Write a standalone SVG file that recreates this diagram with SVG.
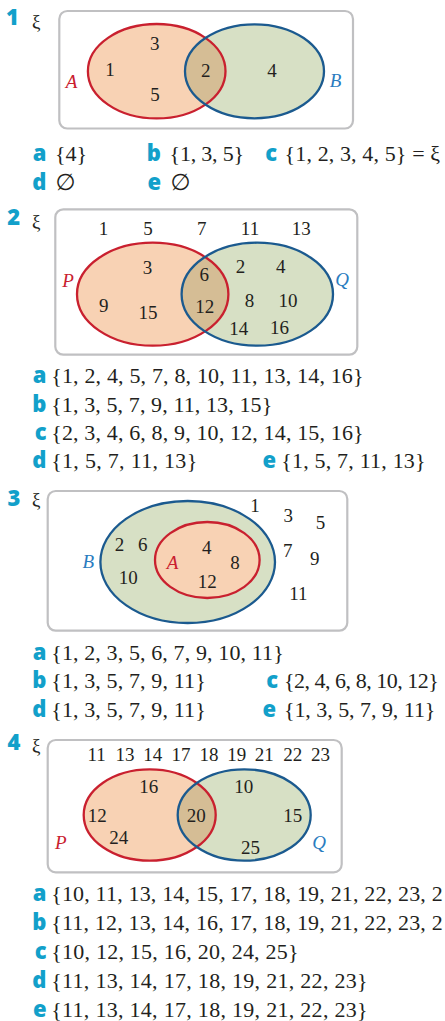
<svg xmlns="http://www.w3.org/2000/svg" width="445" height="1021" viewBox="0 0 445 1021">
<style>
.univ{fill:none;stroke:#c0c0c2;stroke-width:2.2}
.fa{fill:#f8d2b4}
.fb{fill:#d7e0c5}
.fi{fill:#d5bd95}
.sa{fill:none;stroke:#c9202f;stroke-width:2.3}
.sb{fill:none;stroke:#1b5a8f;stroke-width:2.3}
.qn{font-family:"Open Sans","Liberation Sans",sans-serif;font-weight:800;font-size:22px;fill:#12a0ca;text-anchor:middle}
.lbl{font-family:"Open Sans","Liberation Sans",sans-serif;font-weight:800;font-size:22px;fill:#12a0ca;text-anchor:end}
.xi{font-family:"Liberation Serif","DejaVu Serif",serif;font-size:19px;fill:#231f20;text-anchor:middle}
.n{font-family:"Liberation Serif","DejaVu Serif",serif;font-size:19px;fill:#231f20;text-anchor:middle}
.ans{font-family:"Liberation Serif","DejaVu Serif",serif;font-size:22px;fill:#231f20}
.empty{font-family:"DejaVu Sans","Liberation Serif",sans-serif;font-size:23px;fill:#231f20}
.la{font-family:"Liberation Serif",serif;font-style:italic;font-size:19px;fill:#c9202f;text-anchor:middle}
.lb{font-family:"Liberation Serif",serif;font-style:italic;font-size:19px;fill:#2a7cc0;text-anchor:middle}
</style>
<defs>
<clipPath id="c1"><ellipse cx="156.7" cy="71.2" rx="68.8" ry="47.2"/></clipPath>
<clipPath id="c2"><ellipse cx="152.7" cy="294.2" rx="75.7" ry="51.5"/></clipPath>
<clipPath id="c4"><ellipse cx="149.7" cy="815" rx="66" ry="45.7"/></clipPath>
</defs>
<rect width="445" height="1021" fill="#ffffff"/>

<g id="q1">
<text class="qn" x="12.5" y="25">1</text>
<text class="xi" x="36.3" y="27.5">ξ</text>
<g id="q1-universe"><rect class="univ" x="59.3" y="11" width="293.7" height="117.5" rx="8"/></g>
<g id="q1-A"><ellipse class="fa" cx="156.7" cy="71.2" rx="68.8" ry="47.2"/></g>
<g id="q1-B"><ellipse class="fb" cx="254.5" cy="71.3" rx="69.5" ry="47"/></g>
<g id="q1-AB"><ellipse class="fi" cx="254.5" cy="71.3" rx="69.5" ry="47" clip-path="url(#c1)"/></g>
<ellipse class="sa" cx="156.7" cy="71.2" rx="68.8" ry="47.2"/>
<ellipse class="sb" cx="254.5" cy="71.3" rx="69.5" ry="47"/>
<text class="n" x="154.7" y="50">3</text>
<text class="n" x="110" y="76">1</text>
<text class="n" x="155" y="100.5">5</text>
<text class="n" x="205.7" y="76.5">2</text>
<text class="n" x="272" y="77">4</text>
<text class="la" x="71.5" y="88">A</text>
<text class="lb" x="335.5" y="87">B</text>
<g id="q1-answers">
<text class="lbl" x="46.5" y="161">a</text><text class="ans" x="54.9" y="161">{4}</text>
<text class="lbl" x="161" y="161">b</text><text class="ans" x="169.6" y="161" textLength="74.4">{1, 3, 5}</text>
<text class="lbl" x="277" y="161">c</text><text class="ans" x="284.6" y="161" textLength="155.5">{1, 2, 3, 4, 5} = ξ</text>
<text class="lbl" x="46.5" y="190">d</text><text class="empty" x="55.5" y="190">∅</text>
<text class="lbl" x="161" y="190">e</text><text class="empty" x="170.5" y="190">∅</text>
</g>
</g>

<g id="q2">
<text class="qn" x="13.7" y="225">2</text>
<text class="xi" x="36.3" y="227.5">ξ</text>
<g id="q2-universe"><rect class="univ" x="55.3" y="209.3" width="302" height="145.4" rx="8"/></g>
<g id="q2-P"><ellipse class="fa" cx="152.7" cy="294.2" rx="75.7" ry="51.5"/></g>
<g id="q2-Q"><ellipse class="fb" cx="257.3" cy="294.2" rx="75.7" ry="51.5"/></g>
<g id="q2-PQ"><ellipse class="fi" cx="257.3" cy="294.2" rx="75.7" ry="51.5" clip-path="url(#c2)"/></g>
<ellipse class="sa" cx="152.7" cy="294.2" rx="75.7" ry="51.5"/>
<ellipse class="sb" cx="257.3" cy="294.2" rx="75.7" ry="51.5"/>
<text class="n" x="103.5" y="235">1</text>
<text class="n" x="148" y="235">5</text>
<text class="n" x="201.7" y="235">7</text>
<text class="n" x="250" y="235">11</text>
<text class="n" x="301.3" y="235">13</text>
<text class="n" x="147.5" y="274">3</text>
<text class="n" x="103.7" y="311.7">9</text>
<text class="n" x="148" y="319.3">15</text>
<text class="n" x="204.3" y="281">6</text>
<text class="n" x="204.7" y="312.7">12</text>
<text class="n" x="240.5" y="272.7">2</text>
<text class="n" x="280.7" y="273">4</text>
<text class="n" x="249.5" y="307.3">8</text>
<text class="n" x="288" y="307.3">10</text>
<text class="n" x="238.7" y="335">14</text>
<text class="n" x="279.5" y="334">16</text>
<text class="la" x="68" y="287">P</text>
<text class="lb" x="342" y="286">Q</text>
<g id="q2-answers">
<text class="lbl" x="46.5" y="383">a</text><text class="ans" x="51.2" y="383" textLength="312.4">{1, 2, 4, 5, 7, 8, 10, 11, 13, 14, 16}</text>
<text class="lbl" x="46.5" y="412">b</text><text class="ans" x="51.2" y="412" textLength="221">{1, 3, 5, 7, 9, 11, 13, 15}</text>
<text class="lbl" x="46.5" y="440">c</text><text class="ans" x="51.2" y="440" textLength="312.4">{2, 3, 4, 6, 8, 9, 10, 12, 14, 15, 16}</text>
<text class="lbl" x="46.5" y="468">d</text><text class="ans" x="51.2" y="468" textLength="146">{1, 5, 7, 11, 13}</text>
<text class="lbl" x="276" y="468">e</text><text class="ans" x="281.2" y="468" textLength="144.4">{1, 5, 7, 11, 13}</text>
</g>
</g>

<g id="q3">
<text class="qn" x="14" y="505.7">3</text>
<text class="xi" x="36.3" y="506">ξ</text>
<g id="q3-universe"><rect class="univ" x="47.7" y="491" width="299.6" height="139.7" rx="8"/></g>
<g id="q3-B"><ellipse class="fb" cx="187.7" cy="562" rx="87.3" ry="61"/></g>
<g id="q3-A"><ellipse class="fa" cx="207.3" cy="560" rx="52.3" ry="38"/></g>
<ellipse class="sb" cx="187.7" cy="562" rx="87.3" ry="61"/>
<ellipse class="sa" cx="207.3" cy="560" rx="52.3" ry="38"/>
<text class="n" x="255" y="512.3">1</text>
<text class="n" x="288.3" y="521.5">3</text>
<text class="n" x="320.5" y="529.3">5</text>
<text class="n" x="287.8" y="556.5">7</text>
<text class="n" x="314.7" y="565">9</text>
<text class="n" x="298.3" y="600">11</text>
<text class="n" x="119.5" y="551">2</text>
<text class="n" x="142.8" y="551">6</text>
<text class="n" x="128.3" y="584.3">10</text>
<text class="n" x="206.7" y="554.3">4</text>
<text class="n" x="235" y="569">8</text>
<text class="n" x="207.2" y="587.7">12</text>
<text class="la" x="172.5" y="569">A</text>
<text class="lb" x="88.3" y="568.3">B</text>
<g id="q3-answers">
<text class="lbl" x="46.5" y="660">a</text><text class="ans" x="51.2" y="660" textLength="232.5">{1, 2, 3, 5, 6, 7, 9, 10, 11}</text>
<text class="lbl" x="46.5" y="688">b</text><text class="ans" x="51.2" y="688" textLength="154.5">{1, 3, 5, 7, 9, 11}</text>
<text class="lbl" x="278" y="688">c</text><text class="ans" x="283.9" y="688" textLength="155">{2, 4, 6, 8, 10, 12}</text>
<text class="lbl" x="46.5" y="717">d</text><text class="ans" x="51.2" y="717" textLength="154.5">{1, 3, 5, 7, 9, 11}</text>
<text class="lbl" x="276" y="717">e</text><text class="ans" x="283.9" y="717" textLength="151.5">{1, 3, 5, 7, 9, 11}</text>
</g>
</g>

<g id="q4">
<text class="qn" x="14" y="750">4</text>
<text class="xi" x="36.3" y="752">ξ</text>
<g id="q4-universe"><rect class="univ" x="47.7" y="740" width="294" height="132.3" rx="8"/></g>
<g id="q4-P"><ellipse class="fa" cx="149.7" cy="815" rx="66" ry="45.7"/></g>
<g id="q4-Q"><ellipse class="fb" cx="244.2" cy="815" rx="66.5" ry="45.7"/></g>
<g id="q4-PQ"><ellipse class="fi" cx="244.2" cy="815" rx="66.5" ry="45.7" clip-path="url(#c4)"/></g>
<ellipse class="sa" cx="149.7" cy="815" rx="66" ry="45.7"/>
<ellipse class="sb" cx="244.2" cy="815" rx="66.5" ry="45.7"/>
<text class="n" x="96.7" y="761">11</text>
<text class="n" x="125" y="761">13</text>
<text class="n" x="152.8" y="761">14</text>
<text class="n" x="181" y="761">17</text>
<text class="n" x="209" y="761">18</text>
<text class="n" x="236.7" y="761">19</text>
<text class="n" x="264.3" y="761">21</text>
<text class="n" x="292.8" y="761">22</text>
<text class="n" x="320.5" y="761">23</text>
<text class="n" x="148.7" y="792.7">16</text>
<text class="n" x="243.8" y="792.7">10</text>
<text class="n" x="97.2" y="821.7">12</text>
<text class="n" x="196.2" y="821.7">20</text>
<text class="n" x="292.8" y="821.7">15</text>
<text class="n" x="118.8" y="844.3">24</text>
<text class="n" x="250.5" y="854.3">25</text>
<text class="la" x="60.8" y="849">P</text>
<text class="lb" x="319.2" y="849">Q</text>
<g id="q4-answers">
<text class="lbl" x="46.5" y="901">a</text><text class="ans" x="51.2" y="901" textLength="391.5">{10, 11, 13, 14, 15, 17, 18, 19, 21, 22, 23, 2</text>
<text class="lbl" x="46.5" y="930">b</text><text class="ans" x="51.2" y="930" textLength="391.5">{11, 12, 13, 14, 16, 17, 18, 19, 21, 22, 23, 2</text>
<text class="lbl" x="46.5" y="959">c</text><text class="ans" x="51.2" y="959" textLength="247.4">{10, 12, 15, 16, 20, 24, 25}</text>
<text class="lbl" x="46.5" y="988">d</text><text class="ans" x="51.2" y="988" textLength="316.4">{11, 13, 14, 17, 18, 19, 21, 22, 23}</text>
<text class="lbl" x="46.5" y="1016.5">e</text><text class="ans" x="51.2" y="1016.5" textLength="316.4">{11, 13, 14, 17, 18, 19, 21, 22, 23}</text>
</g>
</g>
</svg>
